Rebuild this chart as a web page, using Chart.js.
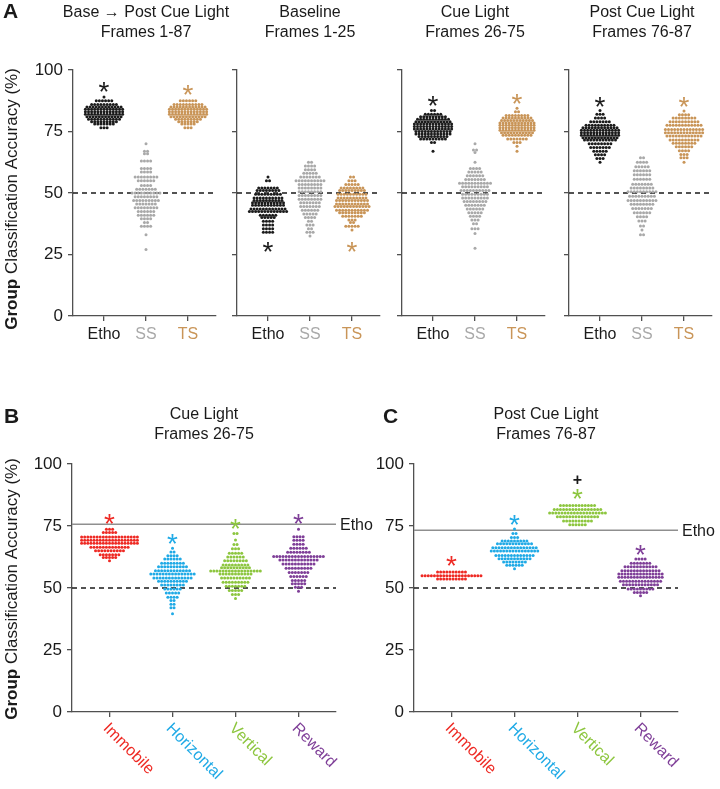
<!DOCTYPE html>
<html>
<head>
<meta charset="utf-8">
<script src="https://cdn.jsdelivr.net/npm/chart.js@4.4.1/dist/chart.umd.min.js"></script>
<style>
  body { margin: 0; background: #fff; }
  #fig { position: relative; width: 720px; height: 789px; overflow: hidden; }
  #fig canvas { position: absolute; }
</style>
</head>
<body>
<div id="fig"></div>
<script>
// ----- Data: each swarm row is [accuracy %, number of dots at that level] -----

const topCats    = ["Etho", "SS", "TS"];
const bottomCats = ["Immobile", "Horizontal", "Vertical", "Reward"];
const yTicks     = [0, 25, 50, 75, 100];

// A: Base -> Post Cue Light, frames 1-87
const fullEtho = [[89,1],[87.5,6],[86,9],[85,12],[84,13],[83,13],[82,13],[81,12],[80,11],[79,9],[78,7],[76.5,3]];
const fullSS   = [[70,1],[67,2],[66,2],[63,4],[60,4],[58.5,4],[56.5,8],[55,6],[53,4],[51.5,7],[50,10],[48.5,8],[47,9],[45.5,7],[44,8],[42.5,6],[41,6],[39.5,4],[38,2],[36.5,4],[33,1],[27,1]];
const fullTS   = [[87.5,6],[86,10],[85,12],[84,13],[83,13],[82,13],[81,12],[80,9],[79,7],[78,5],[76.5,3]];
const fullStars = [93.9, null, 92.7];

// A: Baseline, frames 1-25
const baseEtho = [[56.5,1],[55,2],[52,7],[51,8],[49.5,9],[48,10],[47,10],[46,11],[45,11],[43.5,12],[42.5,13],[41,6],[40,5],[38.5,4],[37,4],[35.5,4],[34,4]];
const baseSS   = [[62.5,2],[61,4],[59.5,4],[58,5],[56.5,7],[55,10],[53.5,8],[52,8],[50.5,8],[49,8],[47.5,8],[46,7],[44.5,7],[43,6],[41.5,5],[40,4],[38.5,2],[37,3],[35.5,2],[34,3],[32.5,1]];
const baseTS   = [[56.5,2],[55,3],[53.5,5],[52,8],[51,9],[49.5,10],[48,10],[47,11],[45.5,11],[44.5,12],[43,11],[42,9],[40.5,7],[39,3],[38,2],[36.5,5],[35,1]];
const baseStars = [28.9, null, 28.9];

// A: Cue Light, frames 26-75
const cueEtho = [[83.5,2],[82,6],[81,9],[80,11],[79,12],[78,13],[77,13],[76,13],[75,12],[74,12],[73,10],[72,9],[70.5,2],[67,1]];
const cueSS   = [[70,1],[67.5,2],[66.5,1],[62.5,1],[60,4],[58.5,5],[57,6],[55.5,7],[54,11],[52.5,9],[51,10],[49.5,9],[48,9],[46.5,8],[45,7],[43.5,6],[42,5],[40.5,4],[39,3],[37.5,2],[35.5,3],[33.5,1],[27.5,1]];
const cueTS   = [[84.5,1],[83,2],[81.5,8],[80.5,10],[79.5,11],[78.5,12],[77.5,12],[76.5,12],[75.5,12],[74.5,11],[73.5,10],[72,7],[70.5,3],[69,1],[67,1]];
const cueStars = [88.2, null, 89.1];

// A: Post Cue Light, frames 76-87
const postEtho = [[83.5,1],[82,3],[80.5,4],[79,7],[77.5,10],[76.5,12],[75.5,13],[74.5,13],[73.5,13],[72.5,12],[71.5,11],[70,8],[68.5,7],[67,5],[65.5,4],[64,3],[62.5,1]];
const postSS   = [[64.3,2],[62.5,4],[60.7,5],[59,6],[57.4,6],[55.6,6],[53.6,7],[52,8],[50.5,10],[48.7,9],[47,10],[45.4,8],[43.7,7],[42,6],[40.3,4],[38.6,3],[36.6,2],[35,1],[33,2]];
const postTS   = [[83.3,1],[81.8,4],[80.5,8],[79,10],[77.5,12],[75.8,13],[74.5,13],[73.2,12],[71.5,10],[70.2,8],[68.8,6],[67.2,4],[65.6,3],[64.3,3],[62.5,1]];
const postStars = [87.8, null, 88];

// B: Cue Light by feature
const cueImmobile   = [[73.7,3],[72.4,5],[70.6,19],[69.3,19],[68,19],[66.4,13],[65,10],[63.4,7],[62.3,5],[61,1]];
const cueHorizontal = [[66,1],[64.5,2],[63,4],[61.7,6],[60,8],[58.6,10],[57,12],[55.6,15],[54,13],[52.7,10],[51.2,8],[49.6,6],[48,5],[46.3,4],[45,2],[43.4,2],[42,2],[39.6,1]];
const cueVertical   = [[72,2],[69.4,1],[67.5,2],[65.8,3],[64,5],[62.5,6],[61,8],[59.3,9],[58.2,10],[56.9,17],[55.6,11],[54,10],[52.3,9],[50.7,7],[49,5],[47.4,3],[45.8,1]];
const cueReward     = [[73.7,1],[70.7,4],[69.3,4],[67.6,4],[66,6],[64.4,8],[62.7,17],[61.3,13],[59.7,11],[58,9],[56.3,7],[54.6,6],[53,5],[51.7,5],[50.3,3],[48.7,1]];
const cueFeatureStars = [78.7, 70.6, 76.8, 78.7];
const cueEthoLine = 75.7;

// C: Post Cue Light by feature
const postImmobile   = [[56.5,10],[54.9,20],[53.6,10]];
const postHorizontal = [[73.8,1],[72,2],[70.4,3],[69,9],[67.8,12],[66.2,15],[64.9,16],[63.1,13],[61.8,11],[60.5,8],[59.2,6],[57.8,1]];
const postVertical   = [[83.3,12],[81.7,16],[80.2,19],[78.7,14],[77,10],[75.5,6]];
const postReward     = [[61.7,4],[60,7],[58.6,11],[57,13],[55.6,15],[54.3,15],[52.7,14],[51.3,12],[49.6,9],[48.2,5],[46.9,1]];
const postFeatureStars = [61.7, 78.5, 88.7, 66.4];
const postPlus = 93.6;        // "+" above Vertical
const postEthoLine = 73.3;

// ----- Styling -----

const FONT  = "'Liberation Sans', Arial, sans-serif";
const AXIS  = "#505050";
const INK   = "#1a1a1a";
const topColors    = ["#1b1b1b", "#a9a9a9", "#c99558"];
const bottomColors = ["#ee2a24", "#20aae6", "#8dc63f", "#7f3f98"];

// ----- Panel layout (canvas box + chart area in page pixels) -----

const panels = [
  { L: 0,   T: 0,   W: 232, H: 350, area: [73, 70, 216, 316], cats: topCats, colors: topColors,
    groups: [fullEtho, fullSS, fullTS], stars: fullStars, title: ["Base \u2192 Post Cue Light", "Frames 1-87"],
    yLabels: true, yTitle: 199, letter: "A" },
  { L: 225, T: 0,   W: 170, H: 350, area: [237, 70, 380, 316], cats: topCats, colors: topColors,
    groups: [baseEtho, baseSS, baseTS], stars: baseStars, title: ["Baseline", "Frames 1-25"] },
  { L: 390, T: 0,   W: 170, H: 350, area: [402, 70, 545, 316], cats: topCats, colors: topColors,
    groups: [cueEtho, cueSS, cueTS], stars: cueStars, title: ["Cue Light", "Frames 26-75"] },
  { L: 557, T: 0,   W: 163, H: 350, area: [569, 70, 712, 316], cats: topCats, colors: topColors,
    groups: [postEtho, postSS, postTS], stars: postStars, title: ["Post Cue Light", "Frames 76-87"] },
  { L: 0,   T: 390, W: 390, H: 399, area: [72, 464, 336, 712], cats: bottomCats, colors: bottomColors, bottom: true,
    groups: [cueImmobile, cueHorizontal, cueVertical, cueReward], stars: cueFeatureStars, etho: cueEthoLine,
    title: ["Cue Light", "Frames 26-75"], yLabels: true, yTitle: 589, letter: "B" },
  { L: 370, T: 390, W: 350, H: 399, area: [414, 464, 678, 712], cats: bottomCats, colors: bottomColors, bottom: true,
    groups: [postImmobile, postHorizontal, postVertical, postReward], stars: postFeatureStars, etho: postEthoLine,
    plus: postPlus, title: ["Post Cue Light", "Frames 76-87"], yLabels: true, letter: "C" },
];

// spread each row of dots side by side around its category
function swarm(rows, cat, dx) {
  const pts = [];
  rows.forEach(([v, n]) => {
    for (let i = 0; i < n; i++) pts.push({ x: cat + (i - (n - 1) / 2) * dx, y: v });
  });
  return pts;
}

function drawYTitle(ctx, cx, cy) {
  ctx.save();
  ctx.translate(cx, cy);
  ctx.rotate(-Math.PI / 2);
  const bold = "bold 17px " + FONT, reg = "17px " + FONT;
  ctx.font = bold;
  const w1 = ctx.measureText("Group ").width;
  ctx.font = reg;
  const w2 = ctx.measureText("Classification Accuracy (%)").width;
  const x = -(w1 + w2) / 2;
  ctx.textBaseline = "middle";
  ctx.textAlign = "left";
  ctx.fillStyle = INK;
  ctx.font = bold;
  ctx.fillText("Group ", x, 0);
  ctx.font = reg;
  ctx.fillText("Classification Accuracy (%)", x + w1, 0);
  ctx.restore();
}

function overlay(p) {
  return {
    id: "overlay",
    beforeDatasetsDraw(chart) {
      const { ctx, chartArea: a, scales: { y } } = chart;
      ctx.save();
      //chance level
      ctx.strokeStyle = INK;
      ctx.lineWidth = 1.3;
      ctx.setLineDash([5, 4]);
      ctx.beginPath();
      ctx.moveTo(a.left, y.getPixelForValue(50));
      ctx.lineTo(a.right, y.getPixelForValue(50));
      ctx.stroke();
      //Etho reference
      if (p.etho != null) {
        const ey = y.getPixelForValue(p.etho);
        ctx.setLineDash([]);
        ctx.strokeStyle = "#8f8f8f";
        ctx.lineWidth = 1.4;
        ctx.beginPath();
        ctx.moveTo(a.left, ey);
        ctx.lineTo(a.right, ey);
        ctx.stroke();
        ctx.fillStyle = INK;
        ctx.font = "16px " + FONT;
        ctx.textAlign = "left";
        ctx.textBaseline = "middle";
        ctx.fillText("Etho", a.right + 4, ey + 1);
      }
      ctx.restore();
    },
    afterDraw(chart) {
      const { ctx, chartArea: a, scales: { x, y } } = chart;
      ctx.save();
      //significance stars
      ctx.textAlign = "center";
      ctx.textBaseline = "alphabetic";
      ctx.font = "28px " + FONT;
      p.stars.forEach((s, i) => {
        if (s == null) return;
        ctx.fillStyle = p.colors[i];
        ctx.fillText("*", x.getPixelForValue(i), y.getPixelForValue(s) + 0.58 * 28);
      });
      if (p.plus != null) {
        ctx.fillStyle = INK;
        ctx.font = "bold 16px " + FONT;
        ctx.fillText("+", x.getPixelForValue(2), y.getPixelForValue(p.plus) + 0.33 * 16);
      }
      //titles
      const mid = x.getPixelForValue((p.cats.length - 1) / 2);
      const base = p.bottom ? 419 : 17;
      ctx.fillStyle = INK;
      ctx.font = "16px " + FONT;
      ctx.fillText(p.title[0], mid, base - p.T);
      ctx.fillText(p.title[1], mid, base + 20 - p.T);
      //rotated feature labels
      if (p.bottom) {
        ctx.font = "16px " + FONT;
        ctx.textAlign = "left";
        ctx.textBaseline = "middle";
        p.cats.forEach((c, i) => {
          ctx.save();
          ctx.translate(x.getPixelForValue(i) - 4, a.bottom + 14);
          ctx.rotate(Math.PI / 4);
          ctx.fillStyle = p.colors[i];
          ctx.fillText(c, 0, 0);
          ctx.restore();
        });
      }
      if (p.yTitle) drawYTitle(ctx, 12 - p.L, p.yTitle - p.T);
      if (p.letter) {
        ctx.fillStyle = INK;
        ctx.font = "bold 21px " + FONT;
        ctx.textAlign = "left";
        ctx.textBaseline = "alphabetic";
        ctx.fillText(p.letter, (p.bottom ? (p.letter === "B" ? 4 : 383) : 3) - p.L, (p.bottom ? 423 : 18) - p.T);
      }
      ctx.restore();
    }
  };
}

function makePanel(p) {
  const cv = document.createElement("canvas");
  cv.width = p.W;
  cv.height = p.H;
  cv.style.left = p.L + "px";
  cv.style.top = p.T + "px";
  cv.style.width = p.W + "px";
  cv.style.height = p.H + "px";
  document.getElementById("fig").appendChild(cv);

  const [x0, y0, x1, y1] = p.area;
  const pxPerCat = p.bottom ? 63 : 42;
  const firstOff = p.bottom ? 37.5 : 31;
  const xmin = -firstOff / pxPerCat;
  const xmax = xmin + (x1 - x0) / pxPerCat;
  const dx = 3.1 / pxPerCat;
  const yw = 42, xh = p.bottom ? 8 : 30;

  new Chart(cv, {
    type: "scatter",
    data: {
      datasets: p.groups.map((g, i) => ({
        data: swarm(g, i, dx),
        backgroundColor: p.colors[i],
        borderWidth: 0,
        pointRadius: 1.5,
        pointHoverRadius: 1.5,
      }))
    },
    options: {
      responsive: false,
      animation: false,
      events: [],
      layout: { padding: { left: x0 - p.L - yw, top: y0 - p.T, right: p.L + p.W - x1, bottom: p.T + p.H - y1 - xh } },
      plugins: { legend: { display: false }, tooltip: { enabled: false } },
      scales: {
        x: {
          type: "linear", min: xmin, max: xmax,
          afterFit: s => { s.height = xh; },
          afterBuildTicks: s => { s.ticks = p.cats.map((c, i) => ({ value: i })); },
          grid: { drawOnChartArea: false, drawTicks: true, tickLength: 5, color: AXIS, lineWidth: 1.3 },
          border: { color: AXIS, width: 1.3 },
          ticks: {
            maxRotation: 0, autoSkip: false, padding: 4,
            callback: (v, i) => p.bottom ? "" : p.cats[i],
            color: c => p.colors[c.index],
            font: { family: FONT, size: 16 },
          }
        },
        y: {
          min: 0, max: 100,
          afterFit: s => { s.width = yw; },
          afterBuildTicks: s => { s.ticks = yTicks.map(v => ({ value: v })); },
          grid: { drawOnChartArea: false, drawTicks: true, tickLength: 5, color: AXIS, lineWidth: 1.3 },
          border: { color: AXIS, width: 1.3 },
          ticks: {
            padding: 5,
            callback: v => p.yLabels ? v : "",
            color: INK,
            font: { family: FONT, size: 17 },
          }
        }
      }
    },
    plugins: [overlay(p)]
  });
}

panels.forEach(makePanel);
</script>
</body>
</html>
